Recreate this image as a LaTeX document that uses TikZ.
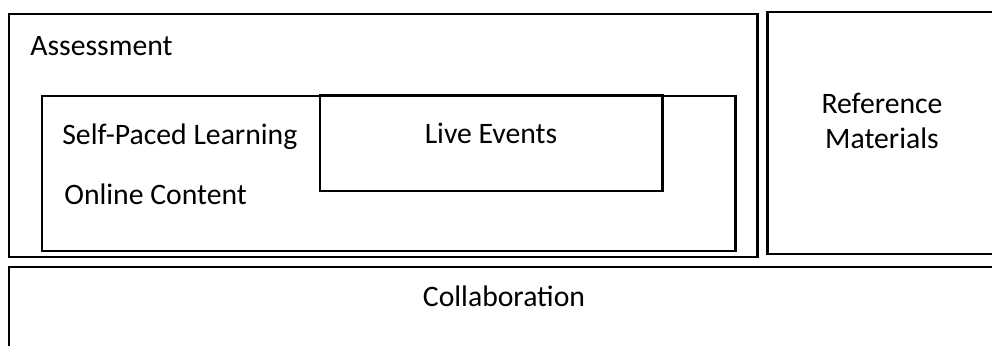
\documentclass[tikz,border=0pt]{standalone}
\usepackage{fontspec}
\setmainfont{Carlito}
\usepackage{tikz}

\tikzset{
  box/.style={line width=1.7pt},
  lbl/.style={inner sep=0pt, font=\fontsize{16.9}{20}\selectfont},
}

\begin{document}
\begin{tikzpicture}[]
	\useasboundingbox (0,0) rectangle (19.84,6.9);
	\clip (0,0) rectangle (19.84,6.9);
	%\draw[help lines] (0,0) grid (20,7);
	\draw[box] (0.18,1.76) rectangle (15.14,6.62);
	\draw[box] (0.84,1.88) rectangle (14.70,4.98);
	\draw[box] (6.40,3.08) rectangle (13.24,5.00);
	\draw[box] (15.34,1.82) rectangle (19.96,6.66);
	\draw[box] (0.18,-0.2) rectangle (20.00,1.56);
	\node[lbl, anchor=west] (assess) at (0.60,5.98) {Assessment};
	\node[lbl, anchor=west] (selfpaced) at (1.24,4.16) {Self-Paced Learning};
	\node[lbl, anchor=west] (online) at (1.28,3.02) {Online Content};
	\node[lbl] (live) at (9.82,4.24) {Live Events};
	\node[lbl, align=center] (refmat) at (17.64,4.48) {Reference\\Materials};
	\node[lbl] (collab) at (10.08,0.98) {Collaboration};
\end{tikzpicture}
\end{document}
